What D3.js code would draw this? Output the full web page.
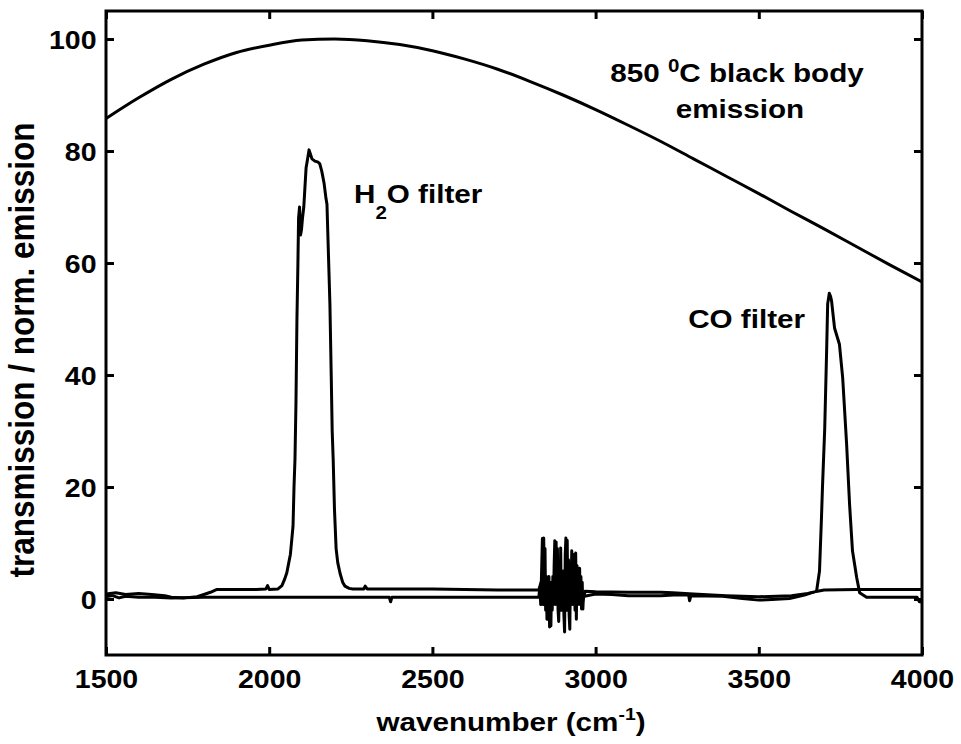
<!DOCTYPE html>
<html><head><meta charset="utf-8">
<script src="https://cdn.jsdelivr.net/npm/d3@7"></script>
<style>
body{margin:0;background:#fff}
svg{display:block}
text{font-family:"Liberation Sans",Arial,sans-serif;font-weight:bold;fill:#000}
</style>
</head><body>
<svg id="c" width="961" height="744"></svg>
<script>
// ---------------- data ----------------
const xTicks = [1500, 2000, 2500, 3000, 3500, 4000];
const yTicks = [0, 20, 40, 60, 80, 100];
const xDomain = [1500, 4000];
const yDomain = [-10, 105];

// 850 °C black body emission, normalised (%)
const bbNu  = [1500,1600,1700,1800,1900,2000,2100,2200,2300,2400,2500,2600,2700,2800,2900,3000,3100,3200,3300,3400,3500,3600,3700,3800,3900,4000];
const bbVal = [85.8,89.5,92.8,95.5,97.6,98.9,99.8,100,99.7,99.0,97.9,96.4,94.6,92.4,90.0,87.4,84.6,81.7,78.6,75.5,72.4,69.2,66.1,62.9,59.7,56.6];

// H2O filter transmission (%)
const h2oNu  = [1500,1530,1560,1600,1640,1680,1700,1740,1779,1800,1820,1840,1900,1960,1990,1995,2000,2027,2039,2047,2054,2060,2065,2073,2076,2079,2082,2085,2088,2090,2093,2096,2099,2102,2106,2109,2113,2116,2122,2126,2131,2140,2150,2155,2161,2168,2174,2177,2180,2186,2190,2193,2196,2200,2205,2210,2217,2225,2232,2245,2256,2290,2294,2300,2500,2600,2700,2800,2826,2833,2842,2851,2860,2870,2880,2890,2900,2910,2920,2930,2940,2950,2960,2968,3000,3100,3200,3236,3300,3400,3500,3600,3650,3680,3700,3800,3900,4000];
const h2oVal = [0.9,1.1,0.8,1.0,0.8,0.6,0.3,0.2,0.4,0.8,1.2,1.7,1.7,1.7,1.8,2.4,1.7,1.8,2.4,3.5,4.7,6.5,8.0,13,20,25,35,50,60,68,70,65,66,68,70,73,77,78,80.2,79.5,78.6,78.2,78.0,77.7,76.4,74.3,71.5,70.5,64.5,52.7,40,30,25,16,9,6.5,4.6,3.0,2.3,1.9,1.8,1.8,2.3,1.8,1.8,1.7,1.6,1.6,1.6,3.0,-1.0,2.5,-1.5,3.0,0.0,3.0,-1.0,2.8,-1.5,2.5,-1.0,2.0,-0.5,1.4,1.3,1.2,1.2,1.1,0.9,0.6,0.4,0.6,1.0,1.4,1.6,1.7,1.7,1.7];

// CO filter transmission (%)
const coNu  = [1500,1520,1540,1560,1600,1650,1700,1800,1900,2000,2100,2200,2300,2368,2372,2376,2500,2600,2700,2800,2826,
  2829,2832,2835,2837,2839,2841,2843,2845,2847,2849,2851,2853,2855,2857,2859,2861,2863,2865,2867,2869,2871,2873,2875,2877,2879,2881,2883,2885,2887,2889,2891,2893,2895,2897,2899,2901,2903,2905,2907,2909,2911,2913,2915,2917,2919,2921,2923,2925,2927,2929,2931,2933,2935,2937,2939,2941,2943,2945,2947,2949,2951,2953,2955,2957,2959,2961,2963,2966,
  3000,3050,3100,3200,3240,3285,3288,3292,3389,3450,3500,3540,3594,3640,3677,3686,3692,3695,3702,3708,3711,3716,3720,3723,3732,3747,3757,3769,3778,3787,3800,3809,3830,3900,3985,3992,4000];
const coVal = [0.4,0.6,0.2,0.5,0.3,0.3,0.2,0.3,0.3,0.3,0.3,0.3,0.3,0.3,-0.5,0.3,0.3,0.3,0.3,0.3,0.3,
  2,-1,6,10.8,-1,10.9,2,9,-2,4,-3.6,3,-2,4,-5,2,-4.8,3,-2,4,-1,6,10.4,-1,10.2,0,9,-2,-4,3,-1,9.1,-2,4,-1,5,-3,-5.9,8,10.9,-2,10.5,-1,7,-3,-5.4,6,2,8.6,-1,8,0,7,-2,8.2,-3.6,6,-1,5,0,5.5,-1,4,-1.8,3,-1.8,1,0.5,
  0.9,0.8,0.6,0.6,0.7,0.7,-0.3,0.6,0.5,0.1,-0.2,-0.1,0.1,0.7,1.4,5,14.5,19.8,30.5,44.8,52.7,54.6,54,53.2,48.4,45.5,39.5,27.7,17,8.6,3.8,1.1,0.3,0.3,0.3,-0.5,-0.5];

// ---------------- drawing ----------------
const svg = d3.select("#c");
const L = 106, R = 922, T = 11, B = 655;
const x = d3.scaleLinear().domain(xDomain).range([L, R]);
const y = d3.scaleLinear().domain(yDomain).range([B, T]);
const SX = 1.14; // horizontal glyph stretch seen in the picture

svg.append("clipPath").attr("id","clip").append("rect")
  .attr("x", L).attr("y", T).attr("width", R - L).attr("height", B - T);

const plot = svg.append("g").attr("clip-path","url(#clip)");
function series(nu, val, curve) {
  const pts = nu.map((n, i) => [n, val[i]]);
  plot.append("path").datum(pts)
    .attr("fill","none").attr("stroke","#000").attr("stroke-width",3)
    .attr("stroke-linejoin","round")
    .attr("d", d3.line().x(d => x(d[0])).y(d => y(d[1])).curve(curve)(pts));
}
series(h2oNu, h2oVal, d3.curveLinear);
series(coNu, coVal, d3.curveLinear);
series(bbNu, bbVal, d3.curveMonotoneX);

// axes (ticks pointing inward on all four sides)
const tick = 8;
const gB = svg.append("g").attr("transform",`translate(0,${B})`)
  .call(d3.axisBottom(x).tickValues(xTicks).tickSizeInner(-tick).tickSizeOuter(0).tickFormat(d3.format("d")));
const gT = svg.append("g").attr("transform",`translate(0,${T})`)
  .call(d3.axisTop(x).tickValues(xTicks).tickSizeInner(-tick).tickSizeOuter(0).tickFormat(""));
const gL = svg.append("g").attr("transform",`translate(${L},0)`)
  .call(d3.axisLeft(y).tickValues(yTicks).tickSizeInner(-tick).tickSizeOuter(0).tickFormat(d3.format("d")));
const gR = svg.append("g").attr("transform",`translate(${R},0)`)
  .call(d3.axisRight(y).tickValues(yTicks).tickSizeInner(-tick).tickSizeOuter(0).tickFormat(""));
[gB,gT,gL,gR].forEach(g => {
  g.selectAll(".domain").remove();
  g.selectAll(".tick line").attr("stroke","#000").attr("stroke-width",3);
  g.attr("font-family",null).attr("font-size",null);
});
gB.selectAll(".tick text").attr("y",33).attr("dy",0)
  .style("font-size","25px").attr("transform",`scale(${SX},1)`);
gL.selectAll(".tick text").attr("x",-9.5/SX).attr("dy",9)
  .style("font-size","25px").attr("transform",`scale(${SX},1)`);

svg.append("rect").attr("x",L).attr("y",T).attr("width",R-L).attr("height",B-T)
  .attr("fill","none").attr("stroke","#000").attr("stroke-width",3);

// text labels
function label(px, py, anchor, size, parts, tf) {
  const t = svg.append("text")
    .attr("transform", tf || `translate(${px},${py}) scale(${SX},1)`)
    .attr("text-anchor", anchor).style("font-size", size + "px");
  parts.forEach(p => {
    const s = t.append("tspan").text(p.t);
    if (p.size) s.style("font-size", p.size + "px");
    if (p.dy) s.attr("dy", p.dy);
  });
  return t;
}
label(737, 82, "middle", 26, [{t:"850 "},{t:"0",size:18,dy:-10},{t:"C black body",dy:10}]);
label(740, 118, "middle", 26, [{t:"emission"}]);
label(354, 203, "start", 26, [{t:"H"},{t:"2",size:18,dy:16},{t:"O filter",dy:-16}]);
label(805, 328, "end", 26, [{t:"CO filter"}]);
label(511, 731, "middle", 26, [{t:"wavenumber (cm"},{t:"-1",size:17,dy:-11},{t:")",dy:11}]);
label(0, 0, "middle", 31.5, [{t:"transmission / norm. emission"}],
  `translate(33.5,350) rotate(-90) scale(1,${SX})`);
</script>
</body></html>
